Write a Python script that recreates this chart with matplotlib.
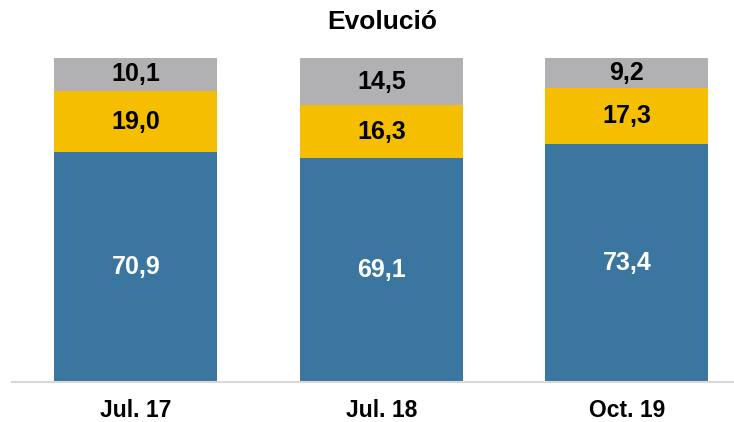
import matplotlib
matplotlib.use("Agg")
import matplotlib.pyplot as plt
import numpy as np

plt.rcParams['font.family'] = ['Liberation Sans', 'DejaVu Sans']

categories = ["Jul. 17", "Jul. 18", "Oct. 19"]
blue_vals = [70.9, 69.1, 73.4]
yellow_vals = [19.0, 16.3, 17.3]
gray_vals = [10.1, 14.5, 9.2]

fig = plt.figure(figsize=(7.34, 4.22), dpi=100)
ax = fig.add_axes([12/734, 40/422, 722/734, 324/422])

x = np.arange(len(categories))
w = 0.664
series = [(blue_vals, "#3A76A0", "white"),
          (yellow_vals, "#F5BE00", "black"),
          (gray_vals, "#B1B1B3", "black")]
bottom = np.zeros(len(categories))
for vals, col, tcol in series:
    vals = np.array(vals)
    ax.bar(x, vals, w, bottom=bottom, color=col, edgecolor="none")
    for xi, b, v in zip(x, bottom, vals):
        ax.text(xi, b + v / 2, f"{v:.1f}".replace(".", ","), ha="center", va="center",
                color=tcol, fontsize=18, fontweight="bold")
    bottom += vals

ax.set_xlim(-0.505, 2.436)
ax.set_ylim(0, 100)
ax.set_xticks(x)
ax.set_xticklabels(categories, fontsize=16.5, fontweight="bold")
ax.tick_params(axis="x", length=0, pad=12)
ax.set_yticks([])
for s in ["top", "left", "right"]:
    ax.spines[s].set_visible(False)
ax.spines["bottom"].set_color("#D9D9D9")
ax.spines["bottom"].set_linewidth(1.5)

fig.text(382/734, 1 - 22/422, "Evolució", ha="center", va="center",
         fontsize=19, fontweight="bold")

fig.savefig("out.png", dpi=100)
